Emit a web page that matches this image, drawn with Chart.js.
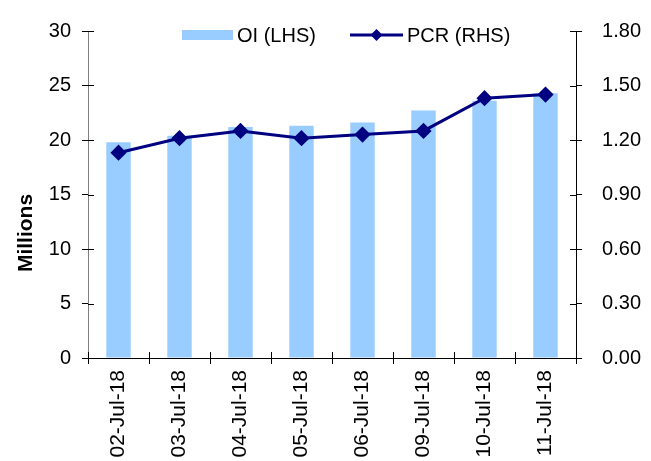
<!DOCTYPE html>
<html>
<head>
<meta charset="utf-8">
<script src="https://cdn.jsdelivr.net/npm/chart.js@4.4.1/dist/chart.umd.min.js"></script>
<style>
  html,body{margin:0;padding:0;background:#fff;}
  #wrap{width:651px;height:461px;position:relative;}
</style>
</head>
<body>
<div id="wrap"><canvas id="c"></canvas></div>
<script>
// Datos
const dates     = ['02-Jul-18','03-Jul-18','04-Jul-18','05-Jul-18','06-Jul-18','09-Jul-18','10-Jul-18','11-Jul-18'];
const oiValues  = [19.8, 20.4, 21.2, 21.3, 21.6, 22.7, 23.6, 24.3];   // millones (LHS)
const pcrValues = [1.13, 1.21, 1.25, 1.21, 1.23, 1.25, 1.43, 1.45];   // PCR (RHS)
const leftRange  = { min:0, max:30,  step:5 };
const rightRange = { min:0, max:1.8, step:0.3 };
const leftTitle  = 'Millions';

const FONT = 'Arial, "Liberation Sans", sans-serif';
const BAR_COLOR  = '#99CCFF';
const LINE_COLOR = '#000080';

// Leyenda y título del eje dibujados a mano
const legendPlugin = {
  id:'manualLegend',
  afterDraw(chart){
    const ctx = chart.ctx;
    const y = 35;
    const barDs  = chart.data.datasets.find(d=>d.type!=='line');
    const lineDs = chart.data.datasets.find(d=>d.type==='line');
    ctx.save();
    ctx.font = '20px ' + FONT;
    ctx.textBaseline = 'middle';
    // OI
    ctx.fillStyle = barDs.backgroundColor;
    ctx.fillRect(182, y-5, 51, 10);
    ctx.fillStyle = '#000';
    ctx.fillText(barDs.label, 237, y+1);
    // PCR
    ctx.strokeStyle = lineDs.borderColor;
    ctx.lineWidth = 3;
    ctx.beginPath(); ctx.moveTo(350, y); ctx.lineTo(403, y); ctx.stroke();
    ctx.fillStyle = lineDs.borderColor;
    const cx = 376.5, r = 6;
    ctx.beginPath();
    ctx.moveTo(cx, y-r); ctx.lineTo(cx+r, y); ctx.lineTo(cx, y+r); ctx.lineTo(cx-r, y); ctx.closePath();
    ctx.fill();
    ctx.fillStyle = '#000';
    ctx.fillText(lineDs.label, 407, y+1);
    // "Millions" girado, algo por debajo del centro como en el original
    ctx.translate(25, 233);
    ctx.rotate(-Math.PI/2);
    ctx.font = 'bold 21px ' + FONT;
    ctx.textAlign = 'center';
    ctx.fillText(leftTitle, 0, 1);
    ctx.restore();
  }
};

// Marcas de eje que cruzan hacia dentro (estilo Excel)
const innerTicksPlugin = {
  id:'innerTicks',
  afterDatasetsDraw(chart){
    const ctx = chart.ctx, a = chart.chartArea;
    ctx.save();
    ctx.lineWidth = 1;
    const yl = chart.scales.y, yr = chart.scales.y1, x = chart.scales.x;
    ctx.strokeStyle = '#000';
    ctx.beginPath();
    yl.ticks.forEach(t=>{ const p = Math.round(yl.getPixelForValue(t.value))+0.5; ctx.moveTo(a.left, p); ctx.lineTo(a.left+6, p); });
    yr.ticks.forEach(t=>{ const p = Math.round(yr.getPixelForValue(t.value))+0.5; ctx.moveTo(a.right, p); ctx.lineTo(a.right-6, p); });
    for(let i=0;i<=x.ticks.length;i++){
      const p = Math.round(a.left + (a.right-a.left)*i/x.ticks.length)+0.5;
      ctx.moveTo(p, a.bottom); ctx.lineTo(p, a.bottom-6);
    }
    ctx.stroke();
    ctx.restore();
  }
};

new Chart(document.getElementById('c'), {
  type:'bar',
  data:{
    labels: dates,
    datasets:[
      {
        type:'line',
        label:'PCR (RHS)',
        data: pcrValues,
        yAxisID:'y1',
        borderColor: LINE_COLOR,
        backgroundColor: LINE_COLOR,
        borderWidth: 3,
        pointStyle:'rectRot',
        pointRadius: 6,
        pointHoverRadius: 6,
        tension: 0,
        order: 0
      },
      {
        label:'OI (LHS)',
        data: oiValues,
        yAxisID:'y',
        backgroundColor: BAR_COLOR,
        borderWidth: 0,
        barPercentage: 0.4,
        categoryPercentage: 1,
        order: 1
      }
    ]
  },
  options:{
    responsive:true,
    maintainAspectRatio:false,
    animation:false,
    devicePixelRatio:1,
    layout:{ padding:{ top:31, left:0, right:10, bottom:0 } },
    plugins:{
      legend:{ display:false },
      tooltip:{ enabled:false }
    },
    scales:{
      x:{
        offset:true,
        grid:{ display:true, drawOnChartArea:false, tickLength:6, color:'#000' },
        border:{ color:'#000', width:1 },
        ticks:{ color:'#000', font:{ family:FONT, size:21 }, minRotation:90, maxRotation:90, padding:6, autoSkip:false },
        afterFit(s){ s.height = 103; }
      },
      y:{
        position:'left',
        min:leftRange.min, max:leftRange.max,
        grid:{ drawOnChartArea:false, tickLength:6, color:'#000' },
        border:{ color:'#808080', width:1 },
        ticks:{ stepSize:leftRange.step, color:'#000', font:{ family:FONT, size:20 }, padding:11 },
        afterFit(s){ s.width = 88; }
      },
      y1:{
        position:'right',
        min:rightRange.min, max:rightRange.max,
        grid:{ drawOnChartArea:false, tickLength:6, color:'#000' },
        border:{ color:'#000', width:1 },
        ticks:{ stepSize:rightRange.step, color:'#000', font:{ family:FONT, size:20 }, padding:4, crossAlign:'far',
                callback:v=>Number(v).toFixed(2) },
        afterFit(s){ s.width = 65; }
      }
    }
  },
  plugins:[legendPlugin, innerTicksPlugin]
});
</script>
</body>
</html>
